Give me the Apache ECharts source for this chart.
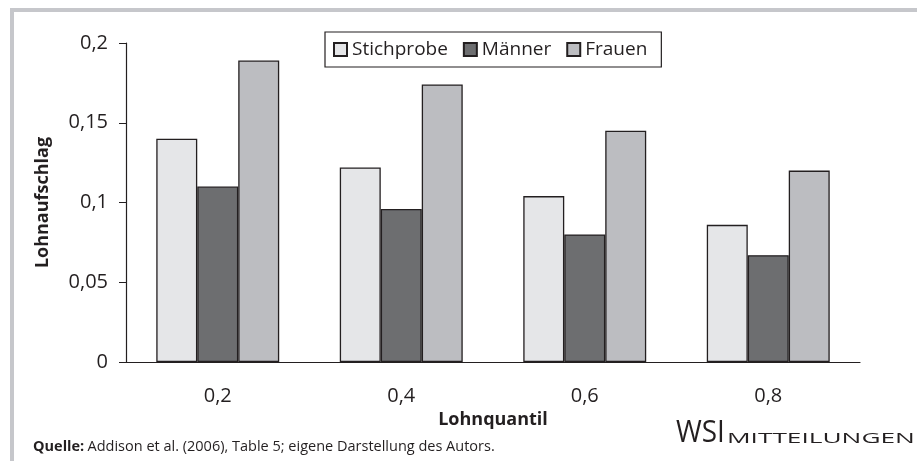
<!DOCTYPE html>
<html>
<head>
<meta charset="utf-8">
<script src="https://cdn.jsdelivr.net/npm/echarts@6.0.0/dist/echarts.min.js"></script>
<style>
  html, body { margin: 0; padding: 0; background: #fff; }
  #main { width: 917px; height: 461px; }
</style>
</head>
<body>
<div id="main"></div>
<script>
var quantile = ['0,2', '0,4', '0,6', '0,8'];
var stichprobe = [0.140, 0.122, 0.104, 0.086];
var maenner = [0.110, 0.096, 0.080, 0.067];
var frauen = [0.189, 0.174, 0.145, 0.120];

var font = '"Open Sans", "DejaVu Sans", sans-serif';
var ink = '#231f20';
var border = { borderColor: ink, borderWidth: 1.3 };

var myChart = echarts.init(document.getElementById('main'));

var option = {
    animation: false,
    textStyle: { fontFamily: font, color: ink },
    grid: { left: 126, right: 57, top: 43, bottom: 99, containLabel: false },
    legend: {
        left: 325,
        top: 32,
        padding: [8, 14, 8, 8],
        itemGap: 15,
        itemWidth: 13,
        itemHeight: 13,
        icon: 'rect',
        borderColor: ink,
        borderWidth: 1.2,
        textStyle: { fontSize: 19, fontFamily: font, color: ink },
        data: ['Stichprobe', 'Männer', 'Frauen']
    },
    xAxis: {
        type: 'category',
        data: quantile,
        name: 'Lohnquantil',
        nameLocation: 'middle',
        nameGap: 43,
        nameTextStyle: { fontSize: 18, fontWeight: 'bold', color: ink },
        axisLine: { lineStyle: { color: ink, width: 1.2 } },
        axisTick: { length: 7, lineStyle: { color: ink } },
        axisLabel: { fontSize: 20, margin: 24, color: ink }
    },
    yAxis: {
        type: 'value',
        min: 0,
        max: 0.2,
        interval: 0.05,
        name: 'Lohnaufschlag',
        nameLocation: 'middle',
        nameGap: 74,
        nameTextStyle: { fontSize: 18, fontWeight: 'bold', color: ink },
        axisLine: { show: true, lineStyle: { color: ink, width: 1.2 } },
        axisTick: { show: true, length: 7, lineStyle: { color: ink } },
        splitLine: { show: false },
        axisLabel: {
            fontSize: 20,
            margin: 18,
            color: ink,
            formatter: function (v) { return String(v).replace('.', ','); }
        }
    },
    series: [
        {
            name: 'Stichprobe', type: 'bar', data: stichprobe,
            barGap: '0%', barCategoryGap: '33%',
            itemStyle: Object.assign({ color: '#e5e6e8' }, border)
        },
        {
            name: 'Männer', type: 'bar', data: maenner,
            itemStyle: Object.assign({ color: '#6d6e70' }, border)
        },
        {
            name: 'Frauen', type: 'bar', data: frauen,
            itemStyle: Object.assign({ color: '#bcbdc1' }, border)
        }
    ],
    graphic: [
        // frame of the original figure box
        { type: 'rect', shape: { x: 10, y: 8, width: 907, height: 4 }, style: { fill: '#c6c7cb' } },
        { type: 'rect', shape: { x: 10, y: 8, width: 4, height: 453 }, style: { fill: '#c6c7cb' } },
        {
            type: 'text', x: 33, y: 447,
            style: {
                verticalAlign: 'middle',
                rich: {
                    b: { fontWeight: 'bold', fontSize: 14.5, fontFamily: font, fill: ink },
                    n: { fontSize: 14.5, fontFamily: font, fill: ink }
                },
                text: '{b|Quelle:} {n|Addison et al. (2006), Table 5; eigene Darstellung des Autors.}'
            }
        },
        {
            type: 'text', x: 676, y: 433, scaleX: 0.9,
            style: { text: 'WSI', fontSize: 31, fontFamily: font, fill: ink, verticalAlign: 'middle' }
        },
        {
            type: 'text', x: 727, y: 439, scaleX: 1.75,
            style: { text: 'MITTEILUNGEN', fontSize: 15, fontFamily: font, fill: ink, verticalAlign: 'middle' }
        }
    ]
};

myChart.setOption(option);

window.onresize = function () {
    myChart.resize();
};
</script>
</body>
</html>
